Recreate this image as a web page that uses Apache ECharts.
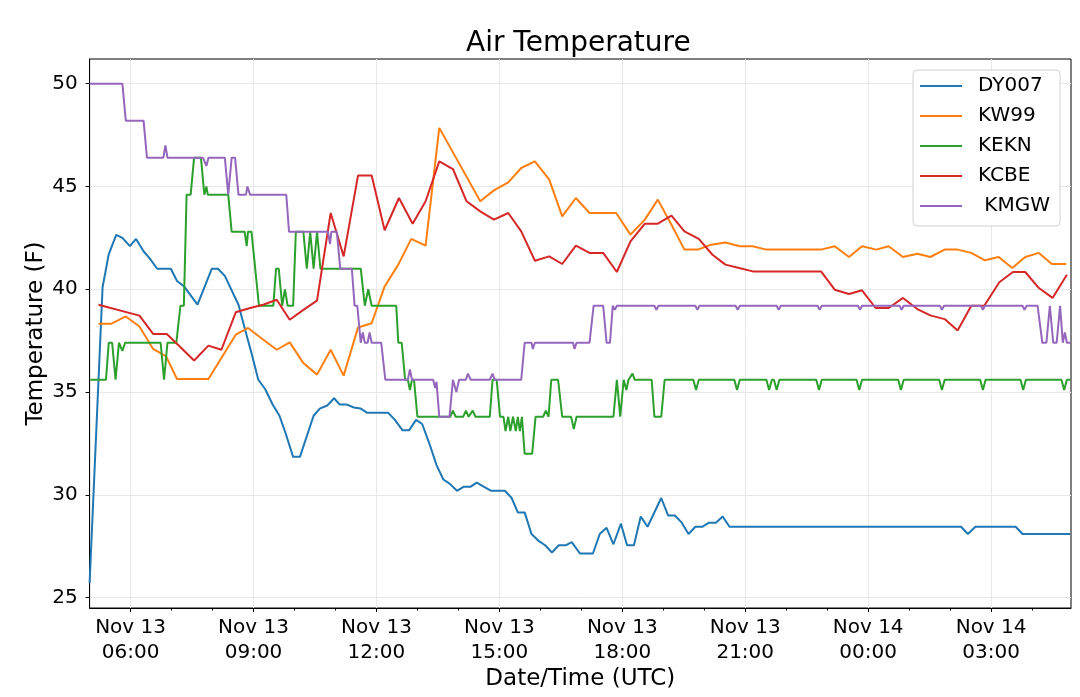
<!DOCTYPE html>
<html>
<head>
<meta charset="utf-8">
<title>Air Temperature</title>
<script src="https://cdn.jsdelivr.net/npm/echarts@6/dist/echarts.min.js"></script>
<style>
  html, body { margin: 0; padding: 0; background: #fff; }
  #chart { width: 1080px; height: 697px; }
</style>
</head>
<body>
<div id="chart"></div>
<script>
// station data, Nov 13 05:00 -> Nov 14 05:00 UTC (times before 05:00 are on Nov 14)
var dyTimes = ['05:00','05:19','05:28','05:39','05:48','05:59','06:08','06:19','06:28','06:39','06:59','07:08','07:18','07:38','07:59','08:08','08:18','08:38','08:48','08:57','09:07','09:17','09:28','09:38','09:47','09:58','10:08','10:18','10:28','10:37','10:48','10:58','11:06','11:16','11:27','11:37','11:46','12:17','12:27','12:38','12:48','12:58','13:07','13:18','13:28','13:38','13:47','13:58','14:08','14:18','14:27','14:37','14:48','15:08','15:18','15:27','15:37','15:47','15:58','16:07','16:17','16:27','16:37','16:46','16:58','17:17','17:27','17:37','17:47','17:58','18:07','18:17','18:27','18:37','18:57','19:07','19:17','19:27','19:37','19:47','19:57','20:07','20:17','20:27','20:37','02:16','02:26','02:37','03:36','03:46','04:56'];
var dyTemps = [25.7,40.1,41.7,42.65,42.5,42.1,42.45,41.85,41.5,41.0,41.0,40.4,40.15,39.25,41.0,41.0,40.65,39.25,38.0,36.9,35.6,35.15,34.4,33.85,33.0,31.85,31.85,32.85,33.85,34.2,34.35,34.7,34.4,34.4,34.25,34.2,34.0,34.0,33.65,33.15,33.15,33.65,33.45,32.45,31.45,30.75,30.55,30.2,30.4,30.4,30.6,30.4,30.2,30.2,29.85,29.15,29.15,28.1,27.75,27.55,27.2,27.55,27.55,27.7,27.15,27.15,28.1,28.4,27.6,28.6,27.55,27.55,28.95,28.45,29.85,29.0,29.0,28.65,28.1,28.45,28.45,28.65,28.65,28.95,28.45,28.45,28.1,28.45,28.45,28.1,28.1];

var kwTimes = ['05:13','05:32','05:53','06:13','06:33','06:52','07:08','07:54','08:15','08:34','08:52','09:13','09:34','09:53','10:13','10:33','10:53','11:12','11:33','11:53','12:12','12:32','12:51','13:12','13:32','14:32','14:52','15:13','15:32','15:52','16:13','16:32','16:52','17:12','17:51','18:12','18:33','18:52','19:12','19:31','19:51','20:10','20:31','20:52','21:11','21:31','22:51','23:11','23:32','23:51','00:12','00:30','00:51','01:12','01:31','01:52','02:11','02:31','02:51','03:11','03:31','03:50','04:10','04:29','04:50'];
var kwTemps = [38.33,38.33,38.68,38.19,37.1,36.74,35.64,35.64,36.77,37.79,38.12,37.58,37.06,37.42,36.41,35.85,37.06,35.8,38.14,38.35,40.14,41.2,42.45,42.12,47.85,44.28,44.81,45.2,45.9,46.22,45.33,43.55,44.44,43.71,43.71,42.66,43.39,44.36,43.14,41.93,41.93,42.17,42.28,42.09,42.09,41.93,41.93,42.09,41.57,42.09,41.93,42.09,41.57,41.73,41.57,41.93,41.93,41.77,41.41,41.57,41.04,41.57,41.77,41.23,41.23];

var ekTimes = ['05:01','05:24','05:28','05:33','05:38','05:43','05:48','05:52','06:44','06:49','06:54','07:07','07:13','07:18','07:22','07:28','07:33','07:43','07:48','07:51','07:53','08:23','08:28','08:47','08:50','08:52','08:57','09:08','09:29','09:33','09:37','09:42','09:46','09:50','09:58','10:02','10:13','10:18','10:23','10:28','10:33','10:38','11:37','11:43','11:48','11:53','12:29','12:32','12:37','12:42','12:46','12:49','12:52','12:55','13:00','13:48','13:52','13:56','14:07','14:11','14:15','14:17','14:21','14:25','14:46','14:50','14:56','15:01','15:06','15:09','15:13','15:16','15:20','15:24','15:27','15:30','15:33','15:37','15:48','15:53','16:04','16:08','16:12','16:16','16:26','16:32','16:45','16:49','16:53','17:47','17:52','17:57','18:02','18:06','18:09','18:15','18:18','18:43','18:47','18:57','19:02','19:44','19:48','19:52','20:44','20:48','20:52','21:31','21:35','21:39','21:42','21:46','21:50','22:44','22:48','22:52','23:43','23:47','23:51','00:44','00:48','00:52','01:44','01:48','01:52','02:44','02:48','02:52','03:43','03:47','03:51','04:43','04:47','04:51','04:56'];
var ekTemps = [35.6,35.6,37.4,37.4,35.6,37.4,37.0,37.4,37.4,35.6,37.4,37.4,39.2,39.2,44.6,44.6,46.4,46.4,44.6,45.0,44.6,44.6,42.8,42.8,42.1,42.8,42.8,39.2,39.2,41.0,41.0,39.2,40.0,39.2,39.2,42.8,42.8,41.0,42.8,41.0,42.8,41.0,41.0,39.2,40.0,39.2,39.2,37.4,37.4,35.6,35.6,35.1,35.6,35.6,33.8,33.8,34.1,33.8,33.8,34.1,33.8,33.8,34.1,33.8,33.8,35.6,35.6,33.8,33.8,33.1,33.8,33.1,33.8,33.1,33.8,33.1,33.8,32.0,32.0,33.8,33.8,34.1,33.8,35.6,35.6,33.8,33.8,33.2,33.8,33.8,35.6,33.8,35.6,35.1,35.6,35.9,35.6,35.6,33.8,33.8,35.6,
  35.6,35.1,35.6, 35.6,35.1,35.6, 35.6,35.1,35.6, 35.6,35.1,35.6, 35.6,35.1,35.6, 35.6,35.1,35.6,
  35.6,35.1,35.6, 35.6,35.1,35.6, 35.6,35.1,35.6, 35.6,35.1,35.6, 35.6,35.1,35.6, 35.6];

var cbTimes = ['05:13','06:13','06:33','06:53','07:12','07:33','07:54','08:13','08:34','08:55','09:14','09:34','09:53','10:13','10:33','10:53','11:12','11:33','11:53','12:12','12:33','12:53','13:12','13:32','13:52','14:12','14:32','14:52','15:13','15:32','15:52','16:13','16:32','16:52','17:12','17:32','17:52','18:12','18:33','18:52','19:12','19:31','19:52','20:12','20:31','20:51','21:11','22:51','23:11','23:32','23:51','00:11','00:30','00:51','01:12','01:31','01:52','02:11','02:31','02:50','03:12','03:32','03:50','04:10','04:30','04:51'];
var cbTemps = [39.25,38.72,37.83,37.83,37.22,36.54,37.26,37.06,38.88,39.09,39.25,39.49,38.52,39.0,39.45,43.71,41.6,45.53,45.53,42.87,44.44,43.19,44.28,46.22,45.85,44.28,43.79,43.39,43.71,42.82,41.39,41.6,41.23,42.12,41.77,41.77,40.84,42.33,43.19,43.19,43.58,42.82,42.45,41.68,41.2,41.04,40.87,40.87,39.98,39.77,39.95,39.09,39.09,39.58,39.04,38.73,38.55,38.0,39.2,39.2,40.34,40.84,40.84,40.06,39.58,40.71];

var mgTimes = ['05:00','05:48','05:53','06:19','06:24','06:48','06:51','06:54','07:46','07:51','07:54','08:18','08:23','08:28','08:33','08:38','08:49','08:51','08:55','09:48','09:52','10:49','10:52','10:54','11:02','11:07','11:24','11:28','11:32','11:37','11:40','11:43','11:47','11:50','11:53','12:07','12:13','12:46','12:49','12:52','13:23','13:26','13:28','13:32','13:47','13:52','13:57','14:01','14:11','14:14','14:18','14:46','14:50','14:53','15:32','15:37','15:47','15:49','15:52','16:48','16:50','16:53','17:12','17:18','17:32','17:37','17:42','17:46','17:49','17:52',
  '18:47','18:50','18:53','19:47','19:50','19:53','20:46','20:49','20:52','21:46','21:49','21:52','22:46','22:49','22:52','23:45','23:48','23:51','00:46','00:49','00:52','01:45','01:48','01:51','02:45','02:48','02:51','03:46','03:49','03:52',
  '04:08','04:15','04:21','04:26','04:31','04:36','04:41','04:45','04:48','04:51','04:56'];
var mgTemps = [50,50,48.2,48.2,46.4,46.4,47.0,46.4,46.4,46.0,46.4,46.4,44.6,46.4,46.4,44.6,44.6,45.0,44.6,44.6,42.8,42.8,42.2,42.8,42.8,41.0,41.0,39.2,39.2,37.4,37.9,37.4,37.4,37.9,37.4,37.4,35.6,35.6,36.1,35.6,35.6,35.2,35.5,33.8,33.8,35.6,35.0,35.6,35.6,35.9,35.6,35.6,35.9,35.6,35.6,37.4,37.4,37.1,37.4,37.4,37.1,37.4,37.4,39.2,39.2,37.4,37.4,39.2,39.0,39.2,
  39.2,39.0,39.2, 39.2,39.0,39.2, 39.2,39.0,39.2, 39.2,39.0,39.2, 39.2,39.0,39.2, 39.2,39.0,39.2, 39.2,39.0,39.2, 39.2,39.0,39.2, 39.2,39.0,39.2, 39.2,39.0,39.2,
  39.2,37.4,37.4,39.2,37.4,37.4,39.2,37.4,37.9,37.4,37.4];

var stations = ['DY007', 'KW99', 'KEKN', 'KCBE', ' KMGW'];
var colors = ['#1f77b4', '#ff7f0e', '#2ca02c', '#d62728', '#9467bd'];
var xTicks = ['06:00','09:00','12:00','15:00','18:00','21:00','00:00','03:00'];
var yTicks = [25, 30, 35, 40, 45, 50];

var FONT = 'DejaVu Sans';

function toTime(hm) {
    var p = hm.split(':');
    var h = +p[0], m = +p[1];
    var day = h < 5 ? 14 : 13;
    return Date.UTC(2019, 10, day, h, m);
}
function pairs(times, temps) {
    if (times.length !== temps.length) console.warn('length mismatch', times.length, temps.length);
    var n = Math.min(times.length, temps.length);
    return times.slice(0, n).map(function (t, i) { return [toTime(t), temps[i]]; });
}
function pad(n) { return (n < 10 ? '0' : '') + n; }

var xMin = toTime('05:00'), xMax = toTime('04:57');
var majorTicks = xTicks.map(toTime);
var minorTicks = [];
for (var h = 6; h <= 28; h++) minorTicks.push(Date.UTC(2019, 10, 13, h, 0));

var seriesData = [pairs(dyTimes, dyTemps), pairs(kwTimes, kwTemps), pairs(ekTimes, ekTemps),
                  pairs(cbTimes, cbTemps), pairs(mgTimes, mgTemps)];

var chart = echarts.init(document.getElementById('chart'));
chart.setOption({
    animation: false,
    backgroundColor: '#fff',
    color: colors,
    title: {
        text: 'Air Temperature', left: 461, top: 25,
        textStyle: { fontFamily: FONT, fontSize: 28, fontWeight: 'normal', color: '#000' }
    },
    grid: { left: 89.6, right: 9, top: 59, bottom: 89, show: true, borderColor: '#000', borderWidth: 1 },
    legend: {
        orient: 'vertical', left: 913, top: 70,
        data: stations,
        icon: 'rect', itemWidth: 42, itemHeight: 2, itemGap: 10,
        padding: [6, 10, 10, 7],
        backgroundColor: '#fff', borderColor: '#d0d0d0', borderWidth: 1, borderRadius: 4,
        textStyle: { fontFamily: FONT, fontSize: 20, color: '#000', padding: [0, 0, 0, 11] }
    },
    xAxis: [{
        type: 'value', min: xMin, max: xMax,
        axisLine: { lineStyle: { color: '#000', width: 1 } },
        axisTick: { customValues: majorTicks, length: 4, lineStyle: { color: '#000' } },
        axisLabel: {
            customValues: majorTicks, margin: 7, fontFamily: FONT, fontSize: 20, color: '#000', lineHeight: 25,
            formatter: function (v) {
                var d = new Date(v);
                return 'Nov ' + d.getUTCDate() + '\n' + pad(d.getUTCHours()) + ':' + pad(d.getUTCMinutes());
            }
        },
        splitLine: { show: true, lineStyle: { color: '#e8e8e8', width: 1 } },
        name: 'Date/Time (UTC)', nameLocation: 'middle', nameGap: 60, nameMoveOverlap: false,
        nameTextStyle: { fontFamily: FONT, fontSize: 23, color: '#000' }
    }, {
        type: 'value', position: 'bottom', min: xMin, max: xMax,
        axisLine: { show: false },
        axisTick: { customValues: minorTicks, length: 2.5, lineStyle: { color: '#000' } },
        axisLabel: { show: false },
        splitLine: { show: false }
    }],
    yAxis: {
        type: 'value', min: 24.5, max: 51.2,
        axisLine: { show: true, lineStyle: { color: '#000', width: 1 } },
        axisTick: { show: true, customValues: yTicks, length: 4, lineStyle: { color: '#000' } },
        axisLabel: { customValues: yTicks, margin: 12, fontFamily: FONT, fontSize: 20, color: '#000' },
        splitLine: { show: true, lineStyle: { color: '#e8e8e8', width: 1 } },
        name: 'Temperature (F)', nameLocation: 'middle', nameGap: 42, nameMoveOverlap: false,
        nameTextStyle: { fontFamily: FONT, fontSize: 23, color: '#000' }
    },
    series: stations.map(function (name, i) {
        return {
            name: name, type: 'line', xAxisIndex: 0,
            data: seriesData[i],
            showSymbol: false, symbol: 'none',
            lineStyle: { width: 2, color: colors[i] },
            itemStyle: { color: colors[i] }
        };
    })
});
</script>
</body>
</html>
